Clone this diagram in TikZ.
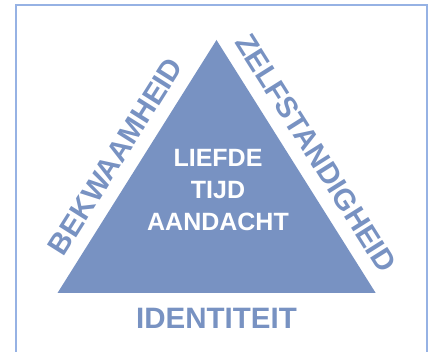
\documentclass[tikz,border=0pt]{standalone}
\usepackage{fontspec}
\setmainfont{Liberation Sans}
\definecolor{tri}{RGB}{120,146,194}
\definecolor{frame}{RGB}{150,178,228}
\begin{document}
\begin{tikzpicture}[x=1pt,y=-1pt,
  sidelabel/.style={text=tri,font=\bfseries\fontsize{29.5}{32}\selectfont,inner sep=0pt},
  centerlabel/.style={text=white,font=\bfseries\fontsize{25}{32}\selectfont,align=center,inner sep=0pt}]
\useasboundingbox (0,0) rectangle (429,352);
\begin{scope}
\clip (0,0) rectangle (429,352);
\draw[frame,line width=2pt] (15.5,5.5) rectangle (426.5,370);
\end{scope}
\coordinate (apex) at (216.5,40);
\coordinate (bl) at (57.5,293);
\coordinate (br) at (375.7,293);
\fill[tri] (apex) -- (bl) -- (br) -- cycle;
\node[centerlabel] (center) at (218,190) {LIEFDE\\TIJD\\AANDACHT};
\node[sidelabel] (bottom) at (216.5,318) {IDENTITEIT};
\node[sidelabel,rotate=57.8] (left) at (115.5,156.5) {BEKWAAMHEID};
\node[sidelabel,rotate=-57.8] (right) at (316,153) {ZELFSTANDIGHEID};
\end{tikzpicture}
\end{document}
